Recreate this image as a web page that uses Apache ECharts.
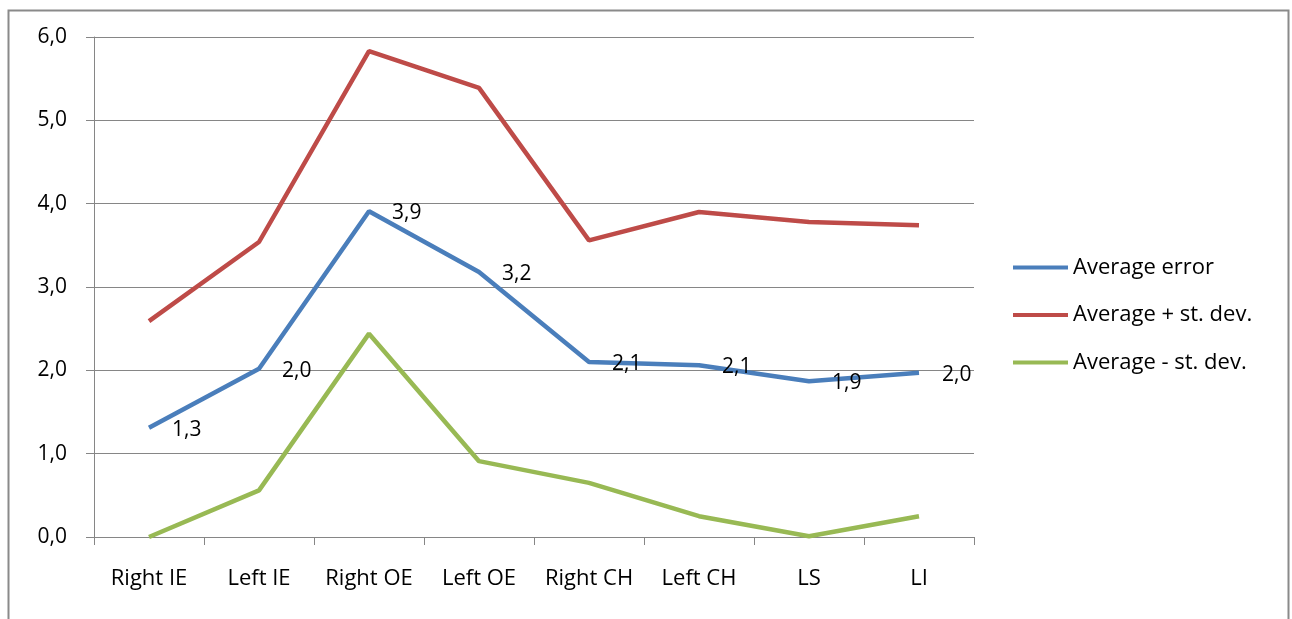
<!DOCTYPE html>
<html>
<head>
<meta charset="utf-8">
<script src="https://cdn.jsdelivr.net/npm/echarts@6/dist/echarts.min.js"></script>
<style>html,body{margin:0;padding:0;background:#fff;}#c{width:1292px;height:619px;}</style>
</head>
<body>
<div id="c"></div>
<script>
const categories = ['Right IE','Left IE','Right OE','Left OE','Right CH','Left CH','LS','LI'];
const averageError = [1.31, 2.02, 3.91, 3.18, 2.10, 2.06, 1.87, 1.97];
const averagePlus = [2.59, 3.54, 5.83, 5.39, 3.56, 3.90, 3.78, 3.74];
const averageMinus = [0.0, 0.56, 2.44, 0.91, 0.65, 0.25, 0.01, 0.25];
const seriesNames = ['Average error', 'Average + st. dev.', 'Average - st. dev.'];
const yTicks = {min: 0, max: 6, interval: 1};

const font = '"Open Sans", "Noto Sans", sans-serif';
const fmt = v => Number(v).toFixed(1).replace('.', ',');

const chart = echarts.init(document.getElementById('c'));
chart.setOption({
  animation: false,
  backgroundColor: '#fff',
  graphic: [{
    type: 'rect', left: 6, top: 8, silent: true,
    shape: {x: 0, y: 0, width: 1280, height: 640},
    style: {fill: 'none', stroke: '#8a8a8a', lineWidth: 2}
  }],
  grid: {left: 94, right: 318, top: 37, bottom: 82, containLabel: false},
  legend: {
    orient: 'vertical', left: 1013, top: 256, itemGap: 24.5, padding: 0,
    itemWidth: 55, itemHeight: 4, icon: 'rect',
    textStyle: {fontFamily: font, fontSize: 22, lineHeight: 23, color: '#000'},
    data: seriesNames
  },
  xAxis: {
    type: 'category', data: categories, boundaryGap: true,
    axisLine: {lineStyle: {color: '#868686', width: 1}},
    axisTick: {show: true, length: 8, interval: 0, lineStyle: {color: '#868686'}},
    axisLabel: {fontFamily: font, fontSize: 22, color: '#000', margin: 31, interval: 0}
  },
  yAxis: {
    type: 'value', min: yTicks.min, max: yTicks.max, interval: yTicks.interval,
    axisLine: {show: true, lineStyle: {color: '#868686', width: 1}},
    axisTick: {show: true, length: 8, lineStyle: {color: '#868686'}},
    splitLine: {lineStyle: {color: '#868686', width: 1}},
    axisLabel: {fontFamily: font, fontSize: 21, color: '#000', margin: 27, formatter: fmt}
  },
  series: [
    {name: seriesNames[0], type: 'line', data: averageError, symbol: 'circle', symbolSize: 0.01, showSymbol: true, z: 3,
     lineStyle: {color: '#4A7EBB', width: 4.5}, itemStyle: {color: '#4A7EBB'},
     label: {show: true, position: 'right', distance: 23, offset: [0, 2], formatter: p => fmt(p.value),
       fontFamily: font, fontSize: 21, color: '#000'}},
    {name: seriesNames[1], type: 'line', data: averagePlus, symbol: 'none', z: 2,
     lineStyle: {color: '#BE4B48', width: 4.5}, itemStyle: {color: '#BE4B48'}},
    {name: seriesNames[2], type: 'line', data: averageMinus, symbol: 'none', z: 2,
     lineStyle: {color: '#98B954', width: 4.5}, itemStyle: {color: '#98B954'}}
  ]
});
</script>
</body>
</html>
